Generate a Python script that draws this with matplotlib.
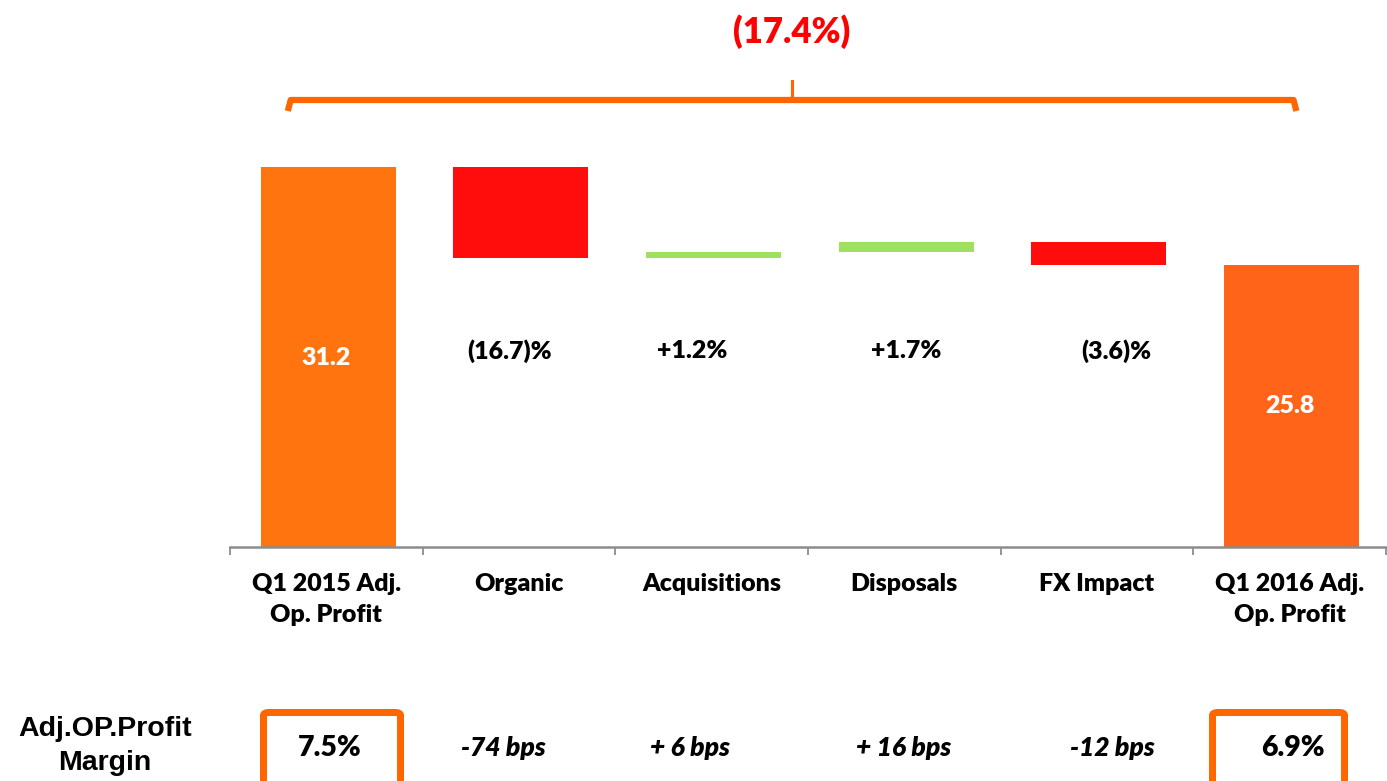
import matplotlib
matplotlib.use("Agg")
import matplotlib.pyplot as plt
from matplotlib import transforms
from matplotlib.patches import FancyBboxPatch
from matplotlib.lines import Line2D

# ---------------- data ----------------
categories = ["Q1 2015 Adj.\nOp. Profit", "Organic", "Acquisitions", "Disposals",
              "FX Impact", "Q1 2016 Adj.\nOp. Profit"]
start_value = 31.2
changes = [-5.0, 0.33, 0.55, -1.28]
end_value = 25.8
value_labels = ["31.2", "(16.7)%", "+1.2%", "+1.7%", "(3.6)%", "25.8"]
total_change_label = "(17.4%)"
margin_row_title = "Adj.OP.Profit\nMargin"
margin_labels = ["7.5%", "-74 bps", "+ 6 bps", "+ 16 bps", "-12 bps", "6.9%"]

# ---------------- style ----------------
ORANGE1 = "#FF740F"
ORANGE2 = "#FF6418"
RED = "#FF0D0D"
GREEN = "#9FE05E"
BRACKET = "#FF6600"
FONT = ["Lato", "DejaVu Sans"]
WEIGHT = "heavy"

W, H = 1387, 781
fig = plt.figure(figsize=(W / 100, H / 100), dpi=100)
base = 10.26
px_per_unit = 18.15
ax_bottom_px, ax_top_px = 547, 100
ax = fig.add_axes([230 / W, (H - ax_bottom_px) / H, (1386 - 230) / W,
                   (ax_bottom_px - ax_top_px) / H])
ax.set_xlim(-0.5, 5.5)
ax.set_ylim(base, base + (ax_bottom_px - ax_top_px) / px_per_unit)

# waterfall geometry from data
bottoms, heights, colors = [], [], []
bottoms.append(base); heights.append(start_value - base); colors.append(ORANGE1)
level = start_value
for c in changes:
    new = level + c
    bottoms.append(min(level, new))
    heights.append(abs(c))
    colors.append(GREEN if c > 0 else RED)
    level = new
bottoms.append(base); heights.append(end_value - base); colors.append(ORANGE2)

xs = list(range(len(categories)))
bar_x = [x + 0.01 for x in xs]
ax.bar(bar_x, heights, bottom=bottoms, width=0.70, color=colors, linewidth=0)

# axes styling
for s in ["left", "right", "top"]:
    ax.spines[s].set_visible(False)
ax.spines["bottom"].set_color("#8C8C8C")
ax.spines["bottom"].set_linewidth(1.8)
ax.set_yticks([])
ax.set_xticks(xs)
ax.set_xticklabels(categories, fontsize=18, fontweight=WEIGHT, family=FONT,
                   linespacing=1.5)
ax.tick_params(axis="x", which="major", length=0, pad=19)
ax.set_xticks([x - 0.5 for x in range(len(categories) + 1)], minor=True)
ax.tick_params(axis="x", which="minor", length=6, width=1.3, color="#8C8C8C",
               direction="out")

# value labels inside/under bars
label_pos = [(0.0, 20.67), (-0.05, 21.06), (-0.10, 21.06), (0.01, 21.06),
             (0.10, 21.06), (0.0, 18.03)]
for i, (lab, (dx, y)) in enumerate(zip(value_labels, label_pos)):
    col = "white" if i in (0, len(categories) - 1) else "black"
    ax.text(xs[i] + dx, y, lab, ha="center", va="center", fontsize=18,
            fontweight=WEIGHT, color=col, family=FONT)

# bracket on top
bt = transforms.blended_transform_factory(ax.transData, fig.transFigure)
def fy(p):
    return (H - p) / H
xl, xr = -0.2, 5.035
xc = (xl + xr) / 2
d = 0.015
bracket = Line2D([xl, xl + d, xr - d, xr],
                 [fy(111), fy(100), fy(100), fy(111)],
                 transform=bt, color=BRACKET, lw=4.5, solid_joinstyle="round",
                 solid_capstyle="butt")
fig.add_artist(bracket)
peak = Line2D([xc, xc], [fy(100), fy(81)], transform=bt, color=BRACKET, lw=2.2)
fig.add_artist(peak)
fig.text(xc, fy(32), total_change_label, transform=bt, ha="center",
         va="center", fontsize=25, fontweight=WEIGHT, color="#FF0000",
         family=FONT)

# margin row
fig.text(105 / W, fy(746), margin_row_title, ha="center", va="center",
         fontsize=20.5, fontweight="bold", family=["Liberation Sans", "DejaVu Sans"],
         linespacing=1.45)
row_dx = [0.02, -0.08, -0.11, -0.005, 0.08, 0.015]
for i, lab in enumerate(margin_labels):
    boxed = i in (0, len(categories) - 1)
    fig.text(xs[i] + row_dx[i], fy(748), lab, transform=bt, ha="center",
             va="center", fontsize=20.5 if boxed else 19, fontweight=WEIGHT,
             style="normal" if boxed else "italic", family=FONT)

# orange boxes around the first/last margin values
box_spans = [(260, 404), (1209, 1348)]
for (x0, x1) in box_spans:
    lw_px = 7
    rect = FancyBboxPatch(((x0 + lw_px / 2) / W, fy(800)),
                          (x1 - x0 - lw_px) / W, (800 - 709 - lw_px / 2) / H,
                          boxstyle="round,pad=0,rounding_size=0.004",
                          transform=fig.transFigure, facecolor="none",
                          edgecolor=BRACKET, linewidth=lw_px * 0.72)
    fig.add_artist(rect)

fig.savefig("out.png", dpi=100, facecolor="white")
